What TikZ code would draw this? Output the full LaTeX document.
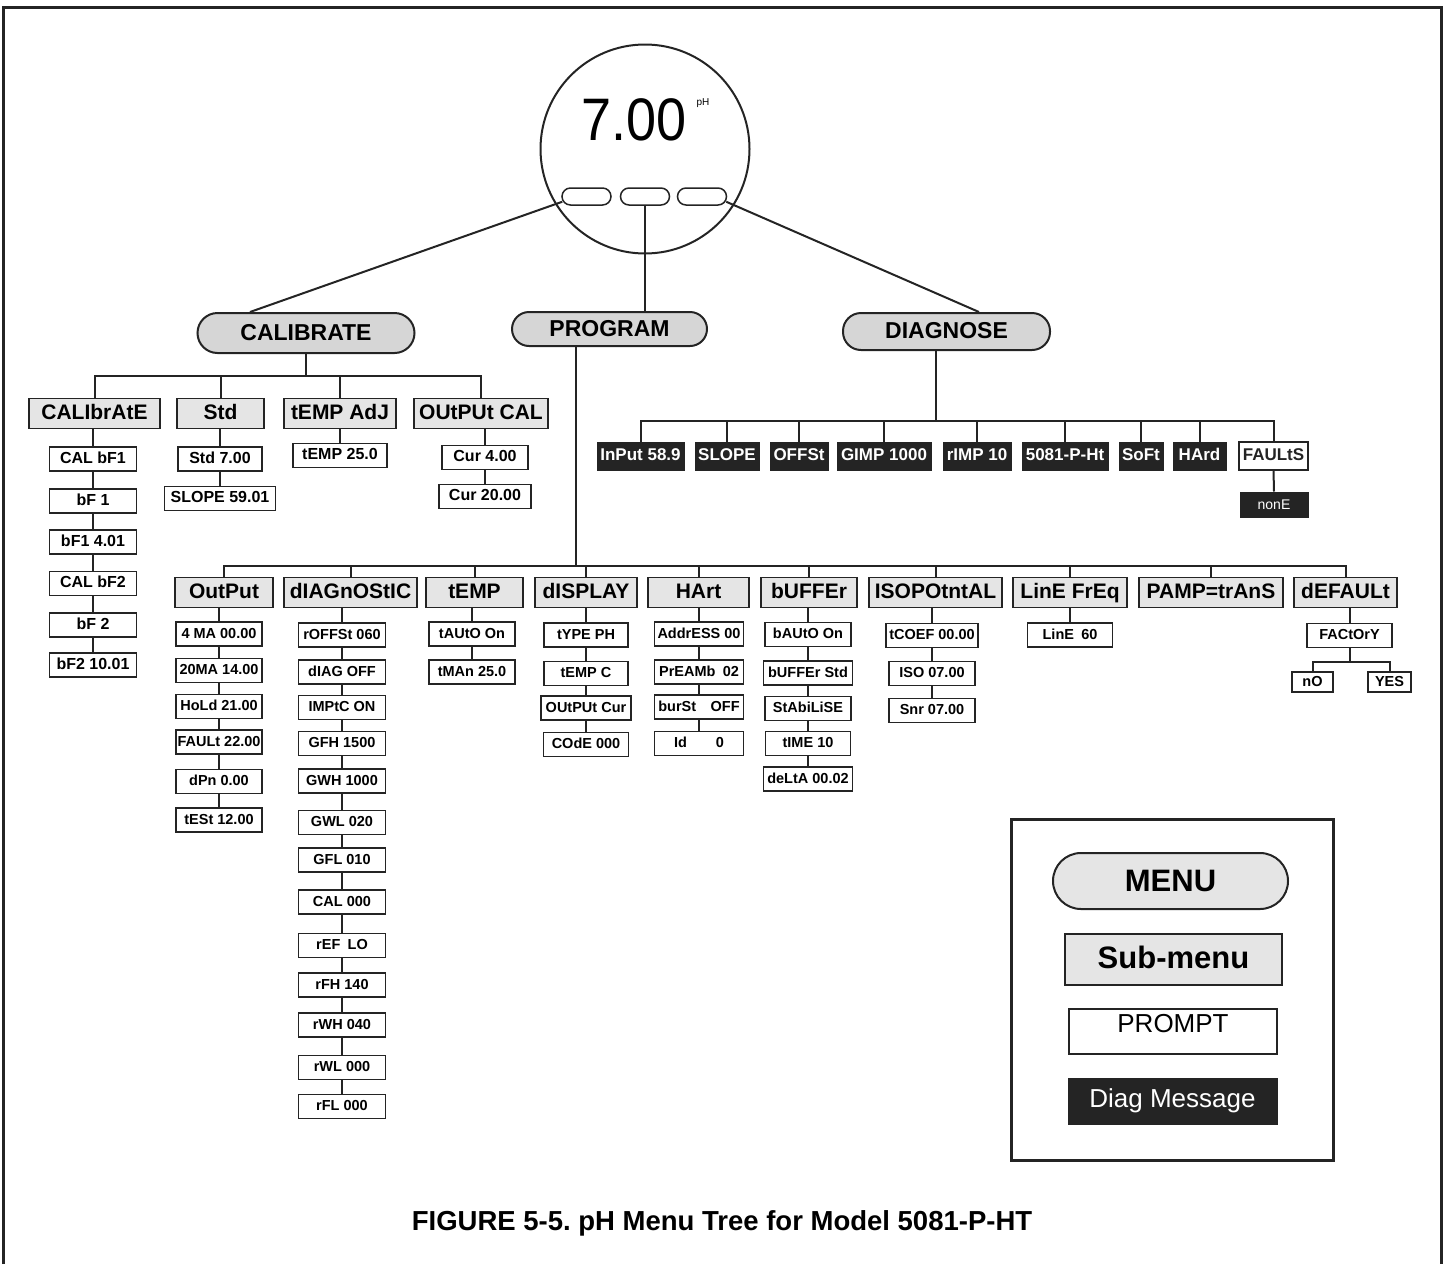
\documentclass[tikz,border=0pt]{standalone}
\usepackage{fontspec}
\setmainfont{Liberation Sans}
\usepackage{tikz}
\usetikzlibrary{calc}

\definecolor{pillgray}{gray}{0.84}
\definecolor{subgray}{gray}{0.9}
\definecolor{inkdark}{gray}{0.14}

\begin{document}
\frenchspacing
\begin{tikzpicture}[x=1pt, y=-1pt,
  conn/.style={line width=2pt, draw=inkdark},
  menu/.style={draw=inkdark, line width=2pt, fill=pillgray, rounded corners=18pt,
    minimum height=37pt, inner sep=0pt, text height=16.5pt, text depth=2pt,
    font=\fontsize{23}{26}\selectfont\bfseries},
  submenu/.style={draw=inkdark, line width=1.6pt, fill=subgray, minimum height=30pt,
    inner sep=0pt, text height=15pt, text depth=4pt, font=\fontsize{21}{24}\selectfont\bfseries},
  prompt/.style={draw=inkdark, line width=1.4pt, fill=white, minimum height=24pt,
    inner sep=0pt, text height=11.5pt, text depth=3pt, font=\fontsize{16}{18}\selectfont\bfseries},
  pprompt/.style={prompt, text height=10.5pt, text depth=2.5pt, font=\fontsize{14.5}{16}\selectfont\bfseries},
  diagmsg/.style={draw=inkdark, line width=1pt, fill=inkdark, text=white, minimum height=28pt,
    inner sep=0pt, text height=12.5pt, text depth=3pt, font=\fontsize{17}{19}\selectfont\bfseries},
  btn/.style={draw=inkdark, line width=1.5pt, rounded corners=8.5pt, minimum width=49pt,
    minimum height=17pt, inner sep=0pt}]
\useasboundingbox (0,0) rectangle (1445,1264);

% frame
\draw[line width=3pt, draw=inkdark] (3,1264) -- (3,7) -- (1441,7) -- (1441,1264);

% display
\node[circle, draw=inkdark, line width=2pt, minimum size=209pt, inner sep=0pt] (disp) at (645,149) {};
\node[font=\fontsize{60}{60}\selectfont] (reading) at (634,120) {\scalebox{0.9}[1]{7.00}};
\node[font=\fontsize{10}{10}\selectfont] (unit) at (703,103) {pH};
\node[btn] (bcal) at (586.5,196.5) {};
\node[btn] (bprog) at (645,196.5) {};
\node[btn] (bdiag) at (702,196.5) {};

% menus
\node[menu, minimum width=217pt, minimum height=40pt, rounded corners=20pt] (calibrate) at (306,333) {CALIBRATE};
\node[menu, minimum width=195pt, minimum height=34pt, rounded corners=17pt] (program) at (609.5,329) {PROGRAM};
\node[menu, minimum width=207pt] (diagnose) at (946.5,331.5) {DIAGNOSE};

\draw[conn] ($(bcal.south west)+(1,-4)$) -- ($(calibrate.north)+(-56,0)$);
\draw[conn] (bprog.south) -- (bprog.south |- program.north);
\draw[conn] ($(bdiag.south east)+(-1,-4)$) -- ($(diagnose.north)+(32.5,0)$);

% calibrate branch
\coordinate (calbar) at (0,376);
\node[submenu, minimum width=131pt] (calib) at (94.5,413.5) {CALIbrAtE};
\node[submenu, minimum width=87pt] (std) at (220.5,413.5) {Std};
\node[submenu, minimum width=112pt] (tempadj) at (340,413.5) {tEMP AdJ};
\node[submenu, minimum width=134pt] (outcal) at (481,413.5) {OUtPUt CAL};
\foreach \n in {calib,std,tempadj,outcal}
  \draw[conn] (calibrate.south) -- (calibrate.south |- calbar) -| (\n.north);

\foreach \y/\txt [count=\i] in {459/CAL bF1, 501/bF 1, 542/bF1 4.01, 583.5/CAL bF2, 625/bF 2, 665/bF2 10.01}
  \node[prompt, minimum width=87pt] (cb\i) at (93,\y) {\txt};
\node[prompt, minimum width=84pt] (std1) at (220,459) {Std 7.00};
\node[prompt, minimum width=111pt] (std2) at (220,498.5) {SLOPE 59.01};
\node[prompt, minimum width=94pt] (tadj1) at (340,455.5) {tEMP 25.0};
\node[prompt, minimum width=86pt] (cur1) at (485,457.5) {Cur 4.00};
\node[prompt, minimum width=92pt] (cur2) at (485,496.5) {Cur 20.00};

% diagnose branch
\coordinate (diagbar) at (0,421);
\coordinate (diagstem) at ($(diagnose.south)+(-10.5,0)$);
\foreach \x/\w/\txt/\n in {640.5/87/InPut 58.9/dm1, 727/64/SLOPE/dm2, 799/58/OFFSt/dm3,
    884/94/GIMP 1000/dm4, 977/68/rIMP 10/dm5, 1065/86/5081-P-Ht/dm6, 1141/44/SoFt/dm7, 1199.5/53/HArd/dm8}
  \node[diagmsg, minimum width=\w pt] (\n) at (\x,456) {\txt};
\node[diagmsg, fill=white, text=inkdark, line width=1.4pt, minimum width=69pt] (faults) at (1273.5,456) {FAULtS};
\node[diagmsg, minimum width=68pt, minimum height=25pt, font=\fontsize{14}{16}\selectfont] (none) at (1274,504.5) {nonE};
\foreach \n in {dm1,dm2,dm3,dm4,dm5,dm6,dm7,dm8,faults}
  \draw[conn] (diagstem) -- (diagstem |- diagbar) -| (\n.north);
\draw[conn] (faults.south) -- (none.north);

% program branch
\coordinate (progbar) at (0,566);
\coordinate (progstem) at ($(program.south)+(-33.5,0)$);
\node[submenu, minimum width=98pt] (output) at (224,592.5) {OutPut};
\node[submenu, minimum width=133pt] (diagnostic) at (350.5,592.5) {dIAGnOStIC};
\node[submenu, minimum width=97pt] (temp) at (474.5,592.5) {tEMP};
\node[submenu, minimum width=102pt] (display) at (586,592.5) {dISPLAY};
\node[submenu, minimum width=101pt] (hart) at (698.5,592.5) {HArt};
\node[submenu, minimum width=96pt] (buffer) at (809,592.5) {bUFFEr};
\node[submenu, minimum width=133pt] (isopot) at (935.5,592.5) {ISOPOtntAL};
\node[submenu, minimum width=114pt] (linefreq) at (1070,592.5) {LinE FrEq};
\node[submenu, minimum width=144pt] (pamp) at (1211,592.5) {PAMP=trAnS};
\node[submenu, minimum width=103pt] (default) at (1345.5,592.5) {dEFAULt};
\foreach \n in {output,diagnostic,temp,display,hart,buffer,isopot,linefreq,pamp,default}
  \draw[conn] (progstem) -- (progstem |- progbar) -| (\n.north);

\foreach \y/\txt [count=\i] in {634/4 MA 00.00, 670.5/20MA 14.00, 706.5/HoLd 21.00,
    742/FAULt 22.00, 781.5/dPn 0.00, 820/tESt 12.00}
  \node[pprompt, minimum width=86pt] (out\i) at (219,\y) {\txt};
\foreach \y/\txt [count=\i] in {635/rOFFSt 060, 672/dIAG OFF, 707.5/IMPtC ON, 743.5/GFH 1500,
    781/GWH 1000, 822.5/GWL 020, 860/GFL 010, 902/CAL 000, 945.5/rEF\enspace LO, 985/rFH 140,
    1025/rWH 040, 1067.5/rWL 000, 1106.5/rFL 000}
  \node[pprompt, minimum width=87pt] (dg\i) at (342,\y) {\txt};
\foreach \y/\txt [count=\i] in {634/tAUtO On, 672/tMAn 25.0}
  \node[pprompt, minimum width=86pt] (tmp\i) at (472,\y) {\txt};
\foreach \y/\w/\txt [count=\i] in {635/84/tYPE PH, 673.5/84/tEMP C, 708/90/OUtPUt Cur, 744.5/85/COdE 000}
  \node[pprompt, minimum width=\w pt] (dsp\i) at (586,\y) {\txt};
\foreach \y/\txt [count=\i] in {634/AddrESS 00, 672/PrEAMb\enspace 02, 707/burSt\quad OFF, 743.5/Id\qquad 0}
  \node[pprompt, minimum width=89pt] (hrt\i) at (699,\y) {\txt};
\foreach \y/\w/\txt [count=\i] in {634.5/86/bAUtO On, 673/89/bUFFEr Std, 708.5/86/StAbiLiSE,
    743.5/85/tIME 10, 779/89/deLtA 00.02}
  \node[pprompt, minimum width=\w pt] (buf\i) at (808,\y) {\txt};
\foreach \y/\w/\txt [count=\i] in {635.5/92/tCOEF 00.00, 673.5/86/ISO 07.00, 710.5/86/Snr 07.00}
  \node[pprompt, minimum width=\w pt] (iso\i) at (932,\y) {\txt};
\node[pprompt, minimum width=85pt] (line1) at (1070,635) {LinE\enspace 60};
\node[pprompt, minimum width=85pt] (fact) at (1349.5,635.5) {FACtOrY};
\node[pprompt, minimum width=41pt, minimum height=20pt] (no) at (1312.5,682) {nO};
\node[pprompt, minimum width=43pt, minimum height=20pt] (yes) at (1389.5,682) {YES};

\foreach \s/\p in {output/out, diagnostic/dg, temp/tmp, display/dsp, hart/hrt, buffer/buf, isopot/iso,
    linefreq/line, calib/cb, std/std, tempadj/tadj, outcal/cur}
  \draw[conn] (\s.south -| \p1.north) -- (\p1.north);
\foreach \p/\n in {out/5, dg/12, tmp/1, dsp/3, hrt/3, buf/4, iso/2, cb/5, std/1, cur/1}
  \foreach \i [count=\j from 2] in {1,...,\n}
    \draw[conn] (\p\i.south) -- (\p\j.north);
\coordinate (factbar) at (0,662);
\draw[conn] (default.south -| fact.north) -- (fact.north);
\foreach \n in {no,yes}
  \draw[conn] (fact.south) -- (fact.south |- factbar) -| (\n.north);

% legend
\draw[line width=3pt, draw=inkdark] (1011,819) rectangle (1333,1160);
\node[menu, fill=subgray, minimum width=235pt, minimum height=56pt, rounded corners=28pt,
  text height=23pt, text depth=2pt, font=\fontsize{31}{34}\selectfont\bfseries] (lmenu) at (1170.5,881) {MENU};
\node[submenu, line width=2pt, minimum width=217pt, minimum height=51pt, text height=23pt, text depth=6pt,
  font=\fontsize{31}{34}\selectfont\bfseries] (lsub) at (1173.5,959.5) {Sub-menu};
\node[prompt, line width=2pt, minimum width=208pt, minimum height=45pt, text height=19pt, text depth=17pt,
  font=\fontsize{26}{28}\selectfont] (lprompt) at (1173,1031.5) {PROMPT};
\node[diagmsg, minimum width=209pt, minimum height=46pt, text height=19pt, text depth=5.5pt,
  font=\fontsize{26}{28}\selectfont] (ldiag) at (1172.5,1101) {Diag Message};

% caption
\node[font=\fontsize{27.5}{30}\selectfont\bfseries] (caption) at (722,1223) {FIGURE 5-5. pH Menu Tree for Model 5081-P-HT};
\end{tikzpicture}
\end{document}
